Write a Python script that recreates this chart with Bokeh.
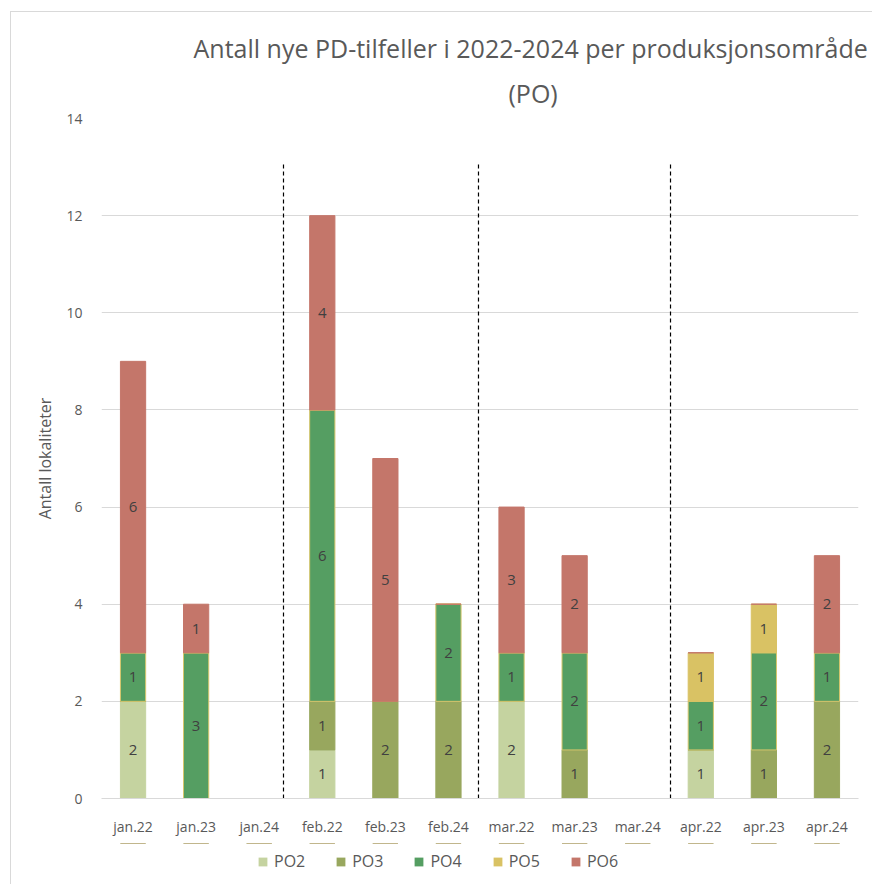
from bokeh.plotting import figure
from bokeh.layouts import column
from bokeh.models import (ColumnDataSource, LabelSet, Legend, LegendItem, FixedTicker,
                          Range1d, Title)
from bokeh.core.properties import value
from bokeh.embed import file_html
from bokeh.resources import INLINE

months = ["jan.22", "jan.23", "jan.24", "feb.22", "feb.23", "feb.24",
          "mar.22", "mar.23", "mar.24", "apr.22", "apr.23", "apr.24"]
series = ["PO2", "PO3", "PO4", "PO5", "PO6"]
po2 = [2, 0, 0, 1, 0, 0, 2, 0, 0, 1, 0, 0]
po3 = [0, 0, 0, 1, 2, 2, 0, 1, 0, 0, 1, 2]
po4 = [1, 3, 0, 6, 0, 2, 1, 2, 0, 1, 2, 1]
po5 = [0, 0, 0, 0, 0, 0, 0, 0, 0, 1, 1, 0]
po6 = [6, 1, 0, 4, 5, 0, 3, 2, 0, 0, 0, 2]
y_ticks = [0, 2, 4, 6, 8, 10, 12, 14]

colors = ["#c5d3a0", "#98a75e", "#559e62", "#d9c264", "#c4766a"]
outlines = ["#c5d3a0", "#98a75e", "#d6c66c", "#d9c264", "#c4766a"]
separators = [2.385, 5.476, 8.52]

FONT = "Open Sans"
GRAY = "#595959"

xs = list(range(len(months)))
data = {"x": xs}
for name, vals in zip(series, [po2, po3, po4, po5, po6]):
    data[name] = vals
src = ColumnDataSource(data)

p = figure(frame_width=757, frame_height=680, output_backend="svg", toolbar_location=None,
           x_range=Range1d(-0.5, len(months) - 0.5), y_range=Range1d(0, 14),
           min_border_left=101, min_border_right=14, min_border_bottom=45,
           min_border_top=118, outline_line_color=None, background_fill_color="white",
           border_fill_color=None)
p.title = None

renderers = p.vbar_stack(series, x="x", width=0.40, source=src,
                         fill_color=colors, line_color=outlines, line_width=1)

# value labels
lab = {"x": [], "y": [], "t": []}
base = [0] * len(months)
for vals in [po2, po3, po4, po5, po6]:
    for i, v in enumerate(vals):
        if v > 0:
            lab["x"].append(i)
            lab["y"].append(base[i] + v / 2)
            lab["t"].append(str(v))
        base[i] += v
ls = LabelSet(x="x", y="y", text="t", source=ColumnDataSource(lab),
              text_align="center", text_baseline="middle", text_font=value(FONT),
              text_font_size="15px", text_color="#404040")
p.add_layout(ls)

for s in separators:
    p.segment(x0=[s], y0=[0], x1=[s], y1=[13.1], line_color="black",
              line_dash="4 3", line_width=1.2)

# axes
p.xaxis.ticker = FixedTicker(ticks=xs)
p.xaxis.major_label_overrides = {i: m for i, m in enumerate(months)}
p.yaxis.ticker = FixedTicker(ticks=y_ticks)
for ax in [p.xaxis[0], p.yaxis[0]]:
    ax.major_tick_line_color = None
    ax.minor_tick_line_color = None
    ax.major_label_text_font = FONT
    ax.major_label_text_font_size = "14px"
    ax.major_label_text_color = GRAY
p.yaxis.axis_line_color = None
p.xaxis.axis_line_color = "#d9d9d9"
p.yaxis.major_label_standoff = 13
p.xaxis.major_label_standoff = 12
p.yaxis.axis_label = "Antall lokaliteter"
p.yaxis.axis_label_text_font = FONT
p.yaxis.axis_label_text_font_size = "16px"
p.yaxis.axis_label_text_font_style = "normal"
p.yaxis.axis_label_text_color = GRAY
p.yaxis.axis_label_standoff = 7
p.xgrid.grid_line_color = None
p.ygrid.grid_line_color = "#d9d9d9"
p.ygrid.ticker = FixedTicker(ticks=y_ticks)

# titles
t2 = Title(text="(PO)", align="left", offset=407, text_font=FONT,
           text_font_size="25px", text_font_style="normal", text_color=GRAY,
           standoff=18)
t1 = Title(text="Antall nye PD-tilfeller i 2022-2024 per produksjonsområde",
           align="left", offset=92, text_font=FONT, text_font_size="25px",
           text_font_style="normal", text_color=GRAY, standoff=0)
p.add_layout(t2, "above")
p.add_layout(t1, "above")

# legend in a strip below the chart (its bars lie above that strip's visible range)
lf = figure(width=872, height=41, output_backend="svg", toolbar_location=None,
            x_axis_type=None, y_axis_type=None, x_range=Range1d(-0.5, len(months) - 0.5),
            y_range=Range1d(-3, -2), min_border=0, outline_line_color=None,
            background_fill_color=None, border_fill_color=None)
lf.grid.grid_line_color = None
lr = lf.vbar_stack(series, x="x", width=0.40, source=src,
                   fill_color=colors, line_color=None)
legend = Legend(items=[LegendItem(label=s, renderers=[r]) for s, r in zip(series, lr)],
                orientation="horizontal", location=(156, 12), label_text_font=FONT,
                label_text_font_size="16px", label_text_color=GRAY,
                glyph_width=11, glyph_height=11, spacing=30, border_line_color=None,
                background_fill_alpha=0, padding=4, margin=0, label_standoff=6)
lf.add_layout(legend)

layout = column(p, lf, spacing=0)
layout.styles = {
    "background": "linear-gradient(#d9d9d9, #d9d9d9) 10px 11px / 1px 100% no-repeat, "
                  "linear-gradient(#d9d9d9, #d9d9d9) 10px 11px / 100% 1px no-repeat, white"
}

open("out.html", "w").write(file_html(layout, INLINE))
